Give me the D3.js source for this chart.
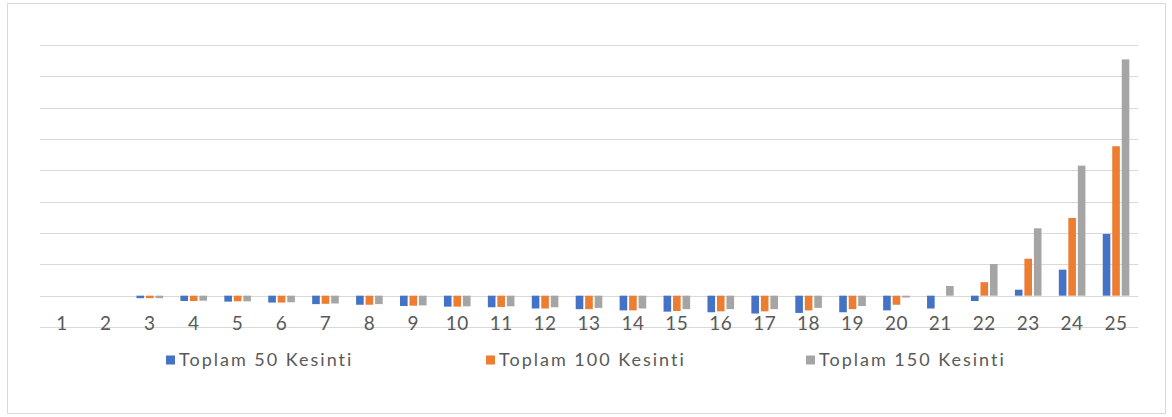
<!DOCTYPE html>
<html>
<head>
<meta charset="utf-8">
<script src="https://cdn.jsdelivr.net/npm/d3@7"></script>
<style>
  html, body { margin: 0; padding: 0; background: #fff; }
  svg { display: block; }
</style>
</head>
<body>
<svg id="chart" width="1172" height="417"></svg>
<script>
const categories = ["1","2","3","4","5","6","7","8","9","10","11","12","13","14","15","16","17","18","19","20","21","22","23","24","25"];
const seriesNames = ["Toplam 50 Kesinti", "Toplam 100 Kesinti", "Toplam 150 Kesinti"];
const seriesColors = ["#4472C4", "#ED7D31", "#A5A5A5"];
const toplam50 = [0, 0, -0.08, -0.17, -0.19, -0.22, -0.27, -0.29, -0.33, -0.35, -0.37, -0.41, -0.43, -0.47, -0.51, -0.53, -0.57, -0.55, -0.53, -0.47, -0.41, -0.17, 0.19, 0.83, 1.97];
const toplam100 = [0, 0, -0.08, -0.17, -0.18, -0.22, -0.26, -0.29, -0.32, -0.35, -0.36, -0.41, -0.43, -0.47, -0.49, -0.50, -0.50, -0.47, -0.43, -0.29, 0, 0.43, 1.18, 2.48, 4.77];
const toplam150 = [0, 0, -0.08, -0.16, -0.18, -0.21, -0.25, -0.27, -0.31, -0.34, -0.34, -0.37, -0.39, -0.41, -0.43, -0.43, -0.43, -0.39, -0.33, -0.06, 0.31, 1.01, 2.15, 4.15, 7.54];
const yTicks = [-1, 0, 1, 2, 3, 4, 5, 6, 7, 8];

const seriesValues = [toplam50, toplam100, toplam150];
const svg = d3.select("#chart");

// chart frame
svg.append("rect")
  .attr("x", 7.5).attr("y", 3.5).attr("width", 1158).attr("height", 410)
  .attr("fill", "#fff").attr("stroke", "#d9d9d9").attr("stroke-width", 1);

const x0 = d3.scaleBand().domain(categories).range([40, 1138]).paddingInner(0).paddingOuter(0);
const x1 = d3.scaleBand().domain(d3.range(seriesNames.length)).range([0, 26.6]).paddingInner(0.2).paddingOuter(0);
const y = d3.scaleLinear().domain([-1, 8]).range([327, 45]);

// gridlines
svg.append("g").selectAll("line").data(yTicks).join("line")
  .attr("x1", 40).attr("x2", 1138)
  .attr("y1", d => Math.round(y(d)) + 0.5).attr("y2", d => Math.round(y(d)) + 0.5)
  .attr("stroke", "#d9d9d9").attr("stroke-width", 1);

// bars
const groups = svg.append("g").selectAll("g").data(categories).join("g")
  .attr("transform", d => `translate(${x0(d) + x0.bandwidth() / 2 - 13.3},0)`);
groups.selectAll("rect").data((c, i) => seriesValues.map((vals, s) => ({ s, v: vals[i] }))).join("rect")
  .attr("x", d => x1(d.s))
  .attr("width", x1.bandwidth())
  .attr("y", d => y(Math.max(0, d.v)))
  .attr("height", d => Math.abs(y(d.v) - y(0)))
  .attr("fill", d => seriesColors[d.s]);

// category axis labels
const xAxis = d3.axisBottom(x0).tickSize(0).tickPadding(0);
const gx = svg.append("g").attr("transform", "translate(0,317)").call(xAxis);
gx.select(".domain").remove();
gx.selectAll("text")
  .attr("font-family", "Lato, 'Open Sans', sans-serif")
  .attr("font-size", 19)
  .attr("letter-spacing", 0.5)
  .attr("fill", "#595959")
  .attr("dy", "0.7em");

// legend
const legendX = [166, 486, 806];
const legend = svg.append("g").selectAll("g").data(seriesNames).join("g")
  .attr("transform", (d, i) => `translate(${legendX[i]},360)`);
legend.append("rect")
  .attr("x", 0).attr("y", -4.5).attr("width", 9).attr("height", 9)
  .attr("fill", (d, i) => seriesColors[i]);
legend.append("text")
  .attr("x", 13).attr("y", 0).attr("dy", "0.35em")
  .attr("font-family", "Lato, 'Open Sans', sans-serif")
  .attr("font-size", 18)
  .attr("letter-spacing", 2)
  .attr("fill", "#595959")
  .text(d => d);
</script>
</body>
</html>
